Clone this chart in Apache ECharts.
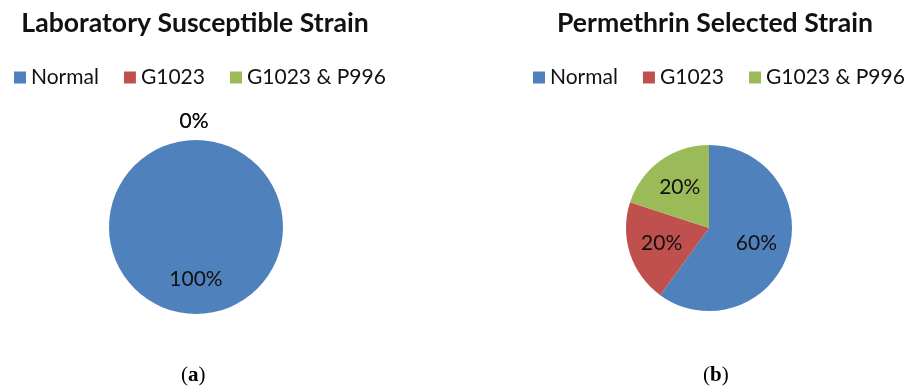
<!DOCTYPE html>
<html>
<head>
<meta charset="utf-8">
<script src="https://cdn.jsdelivr.net/npm/echarts@6/dist/echarts.min.js"></script>
<style>
  html, body { margin: 0; padding: 0; background: #fff; }
  #chart { width: 915px; height: 389px; }
</style>
</head>
<body>
<div id="chart"></div>
<script>
// Genotype categories (shared by both strains)
const categories = ['Normal', 'G1023', 'G1023 & P996'];
// Percentage of individuals per genotype
const susceptibleValues = [100, 0, 0];
const permethrinValues = [60, 20, 20];
// Chart titles and panel captions
const titles = ['Laboratory Susceptible Strain', 'Permethrin Selected Strain'];
const captions = ['a', 'b'];

const colors = ['#4F81BD', '#C0504D', '#9BBB59'];
const FONT = 'Lato';

// Pie geometry (centre x, centre y, radius)
const pies = [
  { cx: 196, cy: 227, r: 87 },
  { cx: 709, cy: 228, r: 83 }
];

function makeData(values) {
  return categories.map((name, i) => ({ name: name, value: values[i] }));
}

// Place each percentage label along its slice's mid-angle:
// inside slices at 60% of the radius, empty slices just outside the rim.
function layoutFor(p, values) {
  const total = values.reduce((a, b) => a + b, 0);
  return function (params) {
    const i = params.dataIndex;
    let cum = 0;
    for (let k = 0; k < i; k++) cum += values[k];
    const theta = 2 * Math.PI * (cum + values[i] / 2) / total;
    const dist = values[i] === 0 ? p.r + 19 : p.r * 0.6;
    return {
      x: p.cx + dist * Math.sin(theta) - (values[i] === 0 ? 2 : 0),
      y: p.cy - dist * Math.cos(theta),
      align: 'center',
      verticalAlign: 'middle'
    };
  };
}

function pieSeries(idx, values) {
  const p = pies[idx];
  return {
    type: 'pie',
    center: [p.cx, p.cy],
    radius: [0, p.r],
    startAngle: 90,
    clockwise: true,
    avoidLabelOverlap: false,
    animation: false,
    silent: true,
    data: makeData(values),
    itemStyle: { borderWidth: 0 },
    label: {
      show: true,
      position: 'inside',
      formatter: '{d}%',
      color: '#111',
      fontFamily: FONT,
      fontSize: 21
    },
    labelLine: { show: false },
    labelLayout: layoutFor(p, values),
    emphasis: { disabled: true }
  };
}

// legends centred under their titles
const legendCenters = [199, 718];
function legendFor(centerX) {
  return {
    data: categories,
    left: centerX - 190,
    width: 400,
    top: 62,
    itemWidth: 12,
    itemHeight: 12,
    itemGap: 25,
    icon: 'rect',
    selectedMode: false,
    textStyle: { fontFamily: FONT, fontSize: 21, color: '#111' }
  };
}

const titleStyle = { fontFamily: FONT, fontWeight: 'bold', fontSize: 26.6, color: '#111' };

const chart = echarts.init(document.getElementById('chart'), null, { renderer: 'canvas' });
chart.setOption({
  backgroundColor: '#fff',
  color: colors,
  title: [
    { text: titles[0], left: 190, top: 5, textAlign: 'center', textStyle: titleStyle },
    { text: titles[1], left: 710, top: 5, textAlign: 'center', textStyle: titleStyle }
  ],
  legend: legendCenters.map(legendFor),
  graphic: captions.map((c, i) => ({
    type: 'text',
    left: i === 0 ? 181 : 703,
    top: 365,
    silent: true,
    style: {
      text: '({b|' + c + '})',
      fill: '#000',
      font: '21px "Liberation Serif"',
      rich: { b: { fontWeight: 'bold', fontFamily: 'Liberation Serif', fontSize: 21, fill: '#000' } }
    }
  })),
  series: [pieSeries(0, susceptibleValues), pieSeries(1, permethrinValues)]
});
</script>
</body>
</html>
